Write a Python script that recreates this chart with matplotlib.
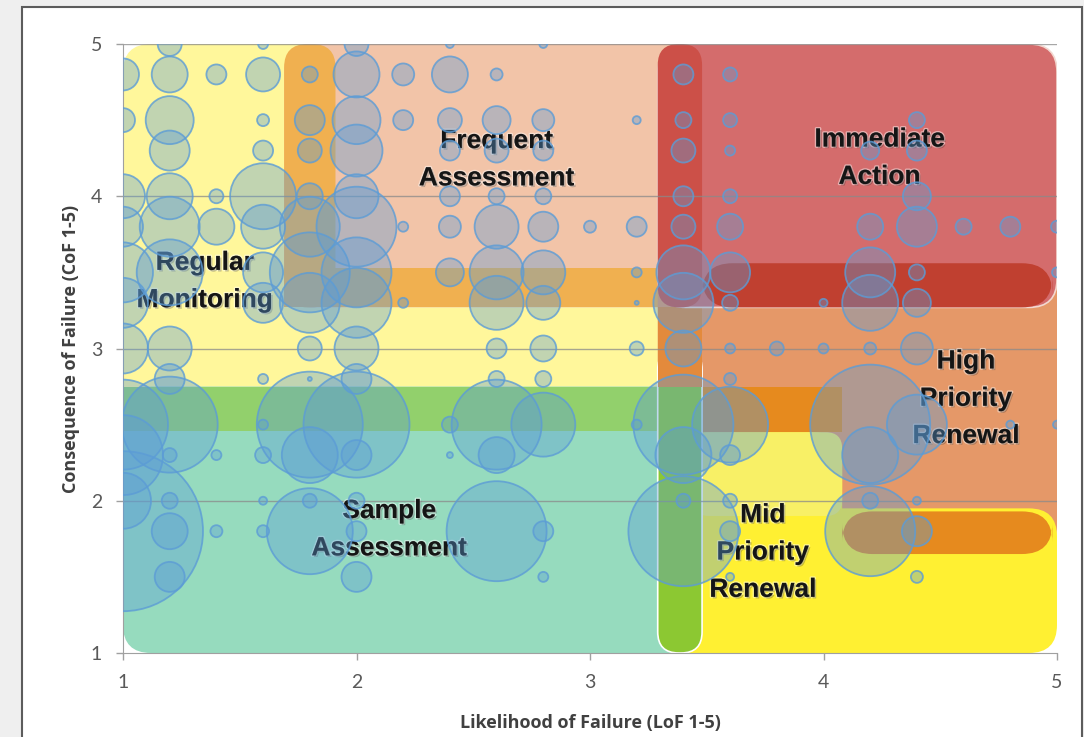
import matplotlib
matplotlib.use("Agg")
import matplotlib.pyplot as plt
import matplotlib.patheffects as pe
from matplotlib.patches import FancyBboxPatch, Rectangle
import numpy as np

# bubbles: likelihood, consequence, bubble size (radius, px)
bub_x = [1.2, 1.6, 2.0, 2.4, 2.8,
         1.0, 1.2, 1.4, 1.6, 1.8, 2.0, 2.2, 2.4, 2.6, 3.4, 3.6,
         1.0, 1.2, 1.6, 1.8, 2.0, 2.2, 2.4, 2.6, 2.8, 3.2, 3.4, 3.6, 4.4,
         1.2, 1.6, 1.8, 2.0, 2.4, 2.6, 2.8, 3.4, 3.6, 4.2, 4.4,
         1.0, 1.2, 1.4, 1.6, 1.8, 2.0, 2.4, 2.6, 2.8, 3.4, 3.6, 4.4,
         1.0, 1.2, 1.4, 1.6, 1.8, 2.0, 2.2, 2.4, 2.6, 2.8, 3.0, 3.2, 3.4, 3.6, 4.2, 4.4, 4.6, 4.8, 5.0,
         1.0, 1.2, 1.6, 1.8, 2.0, 2.4, 2.6, 2.8, 3.2, 3.4, 3.6, 4.2, 4.4, 5.0,
         1.0, 1.6, 1.8, 2.0, 2.2, 2.6, 2.8, 3.2, 3.4, 3.6, 4.0, 4.2, 4.4,
         1.0, 1.2, 1.8, 2.0, 2.6, 2.8, 3.2, 3.4, 3.6, 3.8, 4.0, 4.2, 4.4,
         1.2, 1.6, 1.8, 2.0, 2.6, 2.8, 3.6,
         1.0, 1.2, 1.6, 1.8, 2.0, 2.4, 2.6, 2.8, 3.2, 3.4, 3.6, 4.2, 4.4, 4.8, 5.0,
         1.0, 1.2, 1.4, 1.6, 1.8, 2.0, 2.4, 2.6, 3.4, 3.6, 4.2,
         1.0, 1.2, 1.6, 1.8, 2.0, 3.4, 3.6, 4.2, 4.4,
         1.0, 1.2, 1.4, 1.6, 1.8, 2.0, 2.6, 2.8, 3.4, 3.6, 4.2, 4.4,
         1.2, 2.0, 2.8, 3.6, 4.4]
bub_y = ([5.0] * 5 + [4.8] * 11 + [4.5] * 13 + [4.3] * 11 + [4.0] * 12 +
         [3.8] * 19 + [3.5] * 14 + [3.3] * 13 + [3.0] * 13 + [2.8] * 7 +
         [2.5] * 15 + [2.3] * 11 + [2.0] * 9 + [1.8] * 12 + [1.5] * 5)
bub_size = [12, 5, 12, 4, 4,
            16, 18, 10, 17, 8, 23, 11, 18, 6, 10, 7,
            12, 24, 6, 15, 24, 10, 12, 14, 11, 4, 8, 7, 8,
            20, 10, 12, 26, 10, 12, 10, 12, 5, 9, 10,
            22, 23, 7, 33, 13, 22, 10, 8, 8, 10, 7, 14,
            20, 30, 18, 22, 30, 40, 5, 11, 22, 15, 6, 10, 12, 13, 13, 20, 8, 10, 6,
            30, 33, 20, 40, 35, 14, 27, 22, 5, 27, 20, 25, 8, 5,
            25, 20, 30, 35, 5, 27, 17, 2, 30, 8, 4, 28, 14,
            25, 22, 12, 22, 10, 13, 7, 18, 5, 7, 5, 6, 16,
            15, 5, 2, 15, 8, 8, 6,
            45, 48, 5, 53, 53, 8, 45, 32, 5, 50, 38, 60, 30, 4, 4,
            40, 7, 5, 8, 28, 15, 3, 18, 28, 10, 28,
            28, 8, 4, 7, 8, 7, 7, 8, 4,
            80, 18, 6, 6, 43, 10, 50, 10, 55, 10, 45, 15,
            15, 15, 5, 4, 6]

# zone labels
zone_names = ["Regular\nMonitoring", "Frequent\nAssessment", "Immediate\nAction",
              "High\nPriority\nRenewal", "Mid\nPriority\nRenewal", "Sample\nAssessment"]
zone_lx = [1.35, 2.60, 4.24, 4.61, 3.74, 2.14]
zone_ly = [3.44, 4.24, 4.25, 2.67, 1.66, 1.81]

W, H = 1084, 737
fig = plt.figure(figsize=(W / 100, H / 100), dpi=100, facecolor="#efefef")
fig.patches.append(Rectangle((22 / W, -0.05), (1082 - 22) / W, 1.05 - 7 / H,
                             transform=fig.transFigure, fc="white", ec="#5c5c5c",
                             lw=1.5, zorder=-1))

ax = fig.add_axes([123 / W, 1 - 653 / H, (1057 - 123) / W, (653 - 44) / H])
ax.set_facecolor("none")
ax.set_xlim(1, 5)
ax.set_ylim(1, 5)

asp = 233.5 / 152.25


def zone(x0, y0, x1, y1, color, r=0.12, ec="none", lw=0, z=1.0):
    if r > 0:
        p = FancyBboxPatch((x0, y0), x1 - x0, y1 - y0,
                           boxstyle="round,pad=0,rounding_size=%f" % r,
                           mutation_aspect=asp, fc=color, ec=ec, lw=lw, zorder=z)
    else:
        p = Rectangle((x0, y0), x1 - x0, y1 - y0, fc=color, ec=ec, lw=lw, zorder=z)
    ax.add_patch(p)


# left side zones
zone(1.0, 2.46, 3.48, 5.0, "#fff79b")
zone(1.69, 3.27, 3.48, 5.0, "#f2c4a8")
zone(1.69, 3.27, 1.91, 5.0, "#f0b050", r=0.1)
zone(1.69, 3.27, 3.48, 3.53, "#f0b050", r=0)
zone(1.0, 1.0, 3.48, 2.75, "#96dbbe")
zone(1.0, 2.46, 3.48, 2.75, "#92d06c", r=0)
# right side zones
zone(3.29, 1.65, 5.0, 3.56, "#e59868")
zone(3.29, 2.45, 4.08, 2.75, "#e68a1e", r=0)
zone(3.29, 1.0, 5.0, 1.95, "#fff032")
zone(3.29, 1.0, 4.08, 2.45, "#fff032")
zone(3.44, 1.9, 4.08, 2.45, "#f8f066", r=0.07)
zone(4.08, 1.65, 4.98, 1.93, "#e68a1e", r=0.13)
zone(3.29, 1.0, 3.48, 3.0, "#8cc832", r=0.09, ec="white", lw=1.2)
zone(3.29, 2.75, 3.48, 3.27, "#e38a3c", r=0)
zone(3.29, 3.27, 5.0, 5.0, "#d46c6c", ec="#f3d8d0", lw=1.2)
zone(3.48, 3.27, 4.98, 3.56, "#c04030", r=0.13)
zone(3.29, 3.27, 3.48, 5.0, "#cc5048", r=0.09)

# gridlines
ax.hlines([2, 3, 4, 5], 1, 5, colors="#8a8a8a", lw=1, alpha=0.75, zorder=2)

for name, lx, ly in zip(zone_names, zone_lx, zone_ly):
    ax.text(lx, ly, name, ha="center", va="center", fontsize=19, fontweight="bold",
            family=["Liberation Sans Narrow", "Liberation Sans"], color="#151515",
            linespacing=1.7, zorder=3,
            path_effects=[pe.Stroke(linewidth=2, foreground=(1, 1, 1, 0.45)),
                          pe.withSimplePatchShadow(offset=(1.2, -1.2),
                                                   shadow_rgbFace="black", alpha=0.22)])

# bubbles
s = (2 * np.array(bub_size) * 0.72) ** 2
ax.scatter(bub_x, bub_y, s=s, facecolor=(0.36, 0.61, 0.84, 0.38),
           edgecolor=(0.36, 0.61, 0.84, 0.8), linewidth=1.3, zorder=4)

for sp in ["top", "right"]:
    ax.spines[sp].set_visible(False)
for sp in ["left", "bottom"]:
    ax.spines[sp].set_color("#a0a0a0")
    ax.spines[sp].set_zorder(2.5)
ax.set_xticks([1, 2, 3, 4, 5])
ax.set_yticks([1, 2, 3, 4, 5])
ax.tick_params(colors="#a0a0a0", labelcolor="#595959", length=5, width=1,
               labelsize=14, pad=10)
for t in ax.get_xticklabels() + ax.get_yticklabels():
    t.set_family(["Lato", "DejaVu Sans"])

ax.set_xlabel("Likelihood of Failure (LoF 1-5)", fontsize=13, fontweight="bold",
              color="#404040", family=["Open Sans", "DejaVu Sans"], labelpad=17)
ax.set_ylabel("Consequence of Failure (CoF 1-5)", fontsize=13, fontweight="bold",
              color="#404040", family=["Open Sans", "DejaVu Sans"], labelpad=8)

fig.savefig("out.png", dpi=100, facecolor=fig.get_facecolor())
